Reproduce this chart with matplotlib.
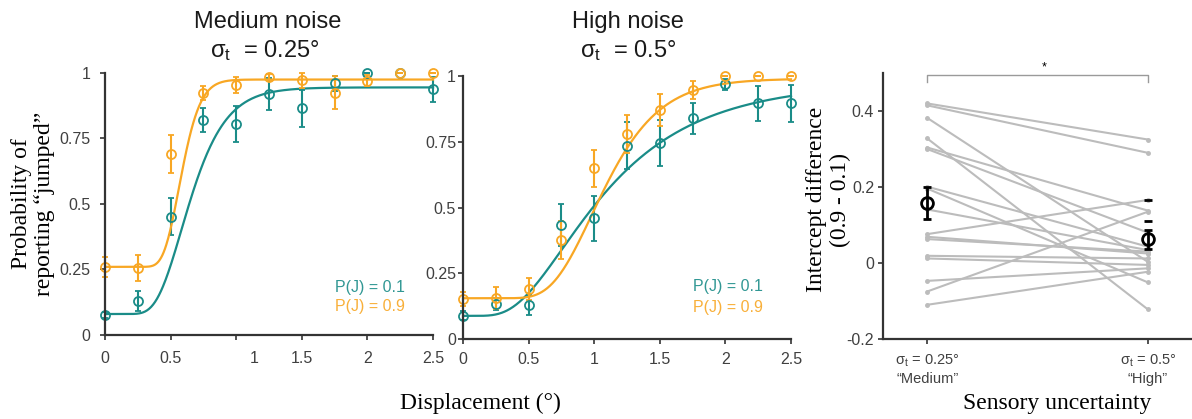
import math
import numpy as np
import matplotlib
matplotlib.use('Agg')
import matplotlib.pyplot as plt
from matplotlib import transforms

plt.rcParams['font.family'] = ['Liberation Sans', 'DejaVu Sans']
plt.rcParams['mathtext.fontset'] = 'custom'
plt.rcParams['mathtext.rm'] = 'Liberation Sans'
plt.rcParams['mathtext.it'] = 'Liberation Sans'

teal = '#1a8c88'
orange = '#f8a724'
spine_col = '#333333'
tick_col = '#404040'
serif = ['Liberation Serif', 'DejaVu Serif']

# displacement levels (deg)
disp = [0, 0.25, 0.5, 0.75, 1.0, 1.25, 1.5, 1.75, 2.0, 2.25, 2.5]

# medium noise, sigma_t = 0.25
med_p01 = [0.075, 0.13, 0.452, 0.819, 0.804, 0.92, 0.865, 0.96, 1.0, 1.0, 0.938]
med_p01_err = [0.012, 0.038, 0.07, 0.046, 0.069, 0.06, 0.07, 0.03, 0.0, 0.0, 0.048]
med_p09 = [0.261, 0.255, 0.692, 0.924, 0.954, 0.985, 0.972, 0.924, 0.971, 1.0, 1.0]
med_p09_err = [0.038, 0.049, 0.072, 0.028, 0.03, 0.01, 0.028, 0.063, 0.02, 0.0, 0.0]

# high noise, sigma_t = 0.5
high_p01 = [0.089, 0.134, 0.13, 0.433, 0.459, 0.735, 0.744, 0.839, 0.968, 0.896, 0.896]
high_p01_err = [0.016, 0.022, 0.038, 0.081, 0.085, 0.09, 0.087, 0.06, 0.02, 0.066, 0.07]
high_p09 = [0.152, 0.156, 0.191, 0.377, 0.649, 0.78, 0.871, 0.947, 1.0, 1.0, 1.0]
high_p09_err = [0.025, 0.04, 0.041, 0.073, 0.07, 0.073, 0.062, 0.035, 0.0, 0.0, 0.0]

# fitted psychometric curves: guess rate, upper asymptote, threshold, log-slope
fit_med_p01 = (0.08, 0.945, 0.649, 0.33)
fit_med_p09 = (0.26, 0.975, 0.585, 0.19)
fit_high_p01 = (0.088, 0.98, 1.045, 0.569)
fit_high_p09 = (0.155, 0.99, 1.079, 0.308)

# intercept difference per subject (0.9 - 0.1)
subj_medium = [0.42, 0.415, 0.382, 0.328, 0.304, 0.30, 0.201, 0.196, 0.141,
               0.076, 0.069, 0.063, 0.019, 0.012, -0.047, -0.075, -0.11]
subj_high = [0.325, 0.29, 0.003, -0.122, 0.138, 0.08, 0.043, -0.051, 0.034,
             0.166, 0.025, 0.03, 0.012, -0.005, -0.014, 0.135, -0.023]
mean_diff = [0.158, 0.063]
sem_diff = [0.042, 0.025]
stray_caps = [0.166, 0.11]
cond_labels = ['σ$_{t}$ = 0.25°\n“Medium”', 'σ$_{t}$ = 0.5°\n“High”']

erf = np.vectorize(math.erf)


def psych(x, guess, top, mu, s):
    z = (np.log(x) - np.log(mu)) / s
    return guess + (top - guess) * 0.5 * (1 + erf(z / math.sqrt(2)))


def style_axis(ax):
    for side in ['top', 'right']:
        ax.spines[side].set_visible(False)
    for side in ['left', 'bottom']:
        ax.spines[side].set_color(spine_col)
        ax.spines[side].set_linewidth(1.6)
    ax.tick_params(colors=spine_col, labelcolor=tick_col, direction='out',
                   length=3.5, width=1.2)


def psych_panel(ax, series):
    x_fit = np.linspace(0.001, 2.5, 500)
    for vals, errs, fit, col in series:
        ax.plot(x_fit, psych(x_fit, *fit), color=col, lw=1.6, clip_on=False)
        cont = ax.errorbar(disp, vals, yerr=errs, fmt='o', mfc='none', mec=col,
                           ecolor=col, ms=6.5, mew=1.3, elinewidth=1.5,
                           capsize=2.5, capthick=1.5)
        for art in cont.get_children():
            art.set_clip_on(False)
    ax.set_xlim(0, 2.5)
    ax.set_ylim(0, 1)
    ax.set_xticks([0, 0.5, 1, 1.5, 2, 2.5])
    ax.set_xticklabels(['0', '0.5', '1', '1.5', '2', '2.5'])
    ax.set_yticks([0, 0.25, 0.5, 0.75, 1])
    ax.set_yticklabels(['0', '0.25', '0.5', '0.75', '1'])
    style_axis(ax)


fig = plt.figure(figsize=(11.92, 4.19), dpi=100)
ax1 = fig.add_axes([0.0881, 0.2005, 0.2752, 0.6253])
ax2 = fig.add_axes([0.3884, 0.1909, 0.2752, 0.6277])
ax3 = fig.add_axes([0.7408, 0.1909, 0.2592, 0.6348])

psych_panel(ax1, [(med_p01, med_p01_err, fit_med_p01, teal),
                  (med_p09, med_p09_err, fit_med_p09, orange)])
psych_panel(ax2, [(high_p01, high_p01_err, fit_high_p01, teal),
                  (high_p09, high_p09_err, fit_high_p09, orange)])

ax1.tick_params(axis='y', pad=7, labelsize=11.5)
ax1.tick_params(axis='x', pad=8, labelsize=11.5)
for lab in ax1.get_yticklabels():
    lab.set_family(['Liberation Sans Narrow', 'Liberation Sans'])
lab1 = ax1.get_xticklabels()[2]
lab1.set_transform(lab1.get_transform() +
                   transforms.ScaledTranslation(0.18, 0, fig.dpi_scale_trans))
ax2.tick_params(axis='y', pad=1.5, labelsize=11.5)
ax2.tick_params(axis='x', pad=6, labelsize=11.5)

for ax, ys in [(ax1, (0.183, 0.107)), (ax2, (0.198, 0.12))]:
    ax.text(0.70, ys[0], 'P(J) = 0.1', color=teal, fontsize=11.5,
            transform=ax.transAxes, va='center', alpha=0.9)
    ax.text(0.70, ys[1], 'P(J) = 0.9', color=orange, fontsize=11.5,
            transform=ax.transAxes, va='center', alpha=0.9)

# titles
fig.text(0.2245, 0.933, 'Medium noise', ha='center', va='baseline', fontsize=17, color='#1a1a1a')
fig.text(0.2225, 0.864, 'σ$_{t}$  = 0.25°', ha='center', va='baseline', fontsize=17, color='#1a1a1a')
fig.text(0.527, 0.933, 'High noise', ha='center', va='baseline', fontsize=17, color='#1a1a1a')
fig.text(0.527, 0.864, 'σ$_{t}$  = 0.5°', ha='center', va='baseline', fontsize=17, color='#1a1a1a')

# subject lines and group mean
for a, b in zip(subj_medium, subj_high):
    ax3.plot([1, 2], [a, b], color='#bcbcbc', lw=1.5, marker='o', ms=2.5, zorder=2)
ax3.errorbar([1, 2], mean_diff, yerr=sem_diff, fmt='o', mfc='none', mec='black',
             ecolor='black', ms=8.5, mew=2, elinewidth=2, capsize=3, capthick=2, zorder=5)
ax3.plot([2] * len(stray_caps), stray_caps, ls='none', marker='_', color='black',
         ms=6, mew=2, zorder=5)
ax3.plot([1, 1, 2, 2], [0.476, 0.495, 0.495, 0.476], color='#9a9a9a', lw=1, clip_on=False)
ax3.text(1.53, 0.5, '*', ha='center', va='bottom', fontsize=9)
ax3.set_xlim(0.8, 2.2)
ax3.set_ylim(-0.2, 0.5)
ax3.set_xticks([1, 2])
ax3.set_xticklabels(cond_labels, fontsize=10.5, linespacing=1.35)
ax3.set_yticks([-0.2, 0, 0.2, 0.4])
ax3.set_yticklabels(['-0.2', '0', '0.2', '0.4'])
style_axis(ax3)
ax3.tick_params(axis='y', pad=3, labelsize=11.5)
ax3.tick_params(axis='x', pad=6)

# axis labels
fig.text(0.0277, 0.513, 'Probability of\nreporting “jumped”', rotation=90,
         ha='center', va='center', fontsize=17, family=serif, linespacing=1.15)
fig.text(0.403, 0.038, 'Displacement (°)', ha='center', va='center', fontsize=17, family=serif)
fig.text(0.695, 0.523, 'Intercept difference\n(0.9 - 0.1)', rotation=90,
         ha='center', va='center', fontsize=17, family=serif, linespacing=1.15)
fig.text(0.887, 0.038, 'Sensory uncertainty', ha='center', va='center', fontsize=17, family=serif)

fig.savefig('out.png', dpi=100)
